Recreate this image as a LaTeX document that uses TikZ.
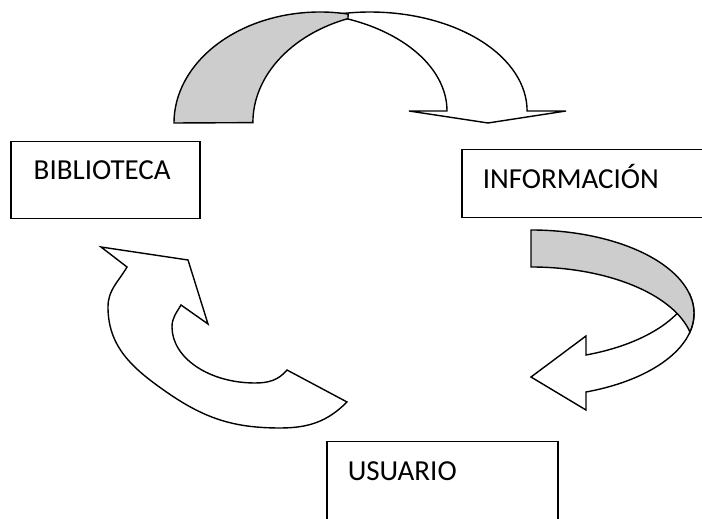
\documentclass[tikz,border=0pt]{standalone}
\usepackage{fontspec}
\setmainfont{Carlito}
\usepackage{tikz}
\usetikzlibrary{positioning}
\definecolor{ink}{HTML}{000000}
\definecolor{shade}{HTML}{CDCDCD}

\begin{document}
\begin{tikzpicture}[x=1pt,y=1pt,
  font=\fontsize{29}{33}\selectfont,
  box/.style={draw=ink,line width=1.5pt,fill=white,anchor=north west,align=left,inner xsep=21pt,inner ysep=0pt,text height=39pt},
  face/.style={draw=ink,fill=white,line width=1.4pt,line join=miter},
  backface/.style={face,fill=shade}]
\useasboundingbox (0,0) rectangle (702,519);
% boxes
\node[box,inner xsep=23pt,text width=143pt,text height=38pt,text depth=39pt] (bib) at (10,378) {BIBLIOTECA};
\node[box,text width=207pt,text depth=29pt] (info) at (461,370) {INFORMACIÓN};
\node[box,text width=189pt,text depth=50pt] (user) at (326,78) {USUARIO};
% top arrow: biblioteca -> informacion
\draw[face] (330,503.7) arc[start angle=104.8,end angle=0,x radius=157,y radius=99]
  -- (566,408) -- (488,396) -- (409,408) -- (447,408)
  arc[start angle=0,end angle=75.2,x radius=157,y radius=99] -- cycle;
\draw[backface] (174,396) arc[start angle=180,end angle=78.9,x radius=146,y radius=111]
  -- (348,500.4) arc[start angle=110.4,end angle=180,x radius=146,y radius=111] -- cycle;
% right arrow: informacion -> usuario
\draw[face] (586,127) arc[start angle=-70.3,end angle=12.8,x radius=163,y radius=83.5]
  arc[start angle=-12.8,end angle=-70.3,x radius=163,y radius=83.5]
  -- (586,183) -- (531,142) -- (586,109) -- cycle;
\draw[backface] (531,289) arc[start angle=90,end angle=-12.8,x radius=163,y radius=83.5]
  arc[start angle=12.8,end angle=90,x radius=163,y radius=83.5] -- cycle;
% left arrow: usuario -> biblioteca
\draw[face] (181,214) to[out=240,in=90] (172,192)
  arc[start angle=180,end angle=270,x radius=83,y radius=56]
  to[out=0,in=-130] (287,149) -- (347,117)
  to[out=-135,in=0] (280,91) to[out=180,in=-35] (165,128)
  to[out=145,in=-90] (108,212) to[out=90,in=-120] (127,252)
  -- (101,272) -- (188,259) -- (208,195) -- cycle;
\end{tikzpicture}
\end{document}
